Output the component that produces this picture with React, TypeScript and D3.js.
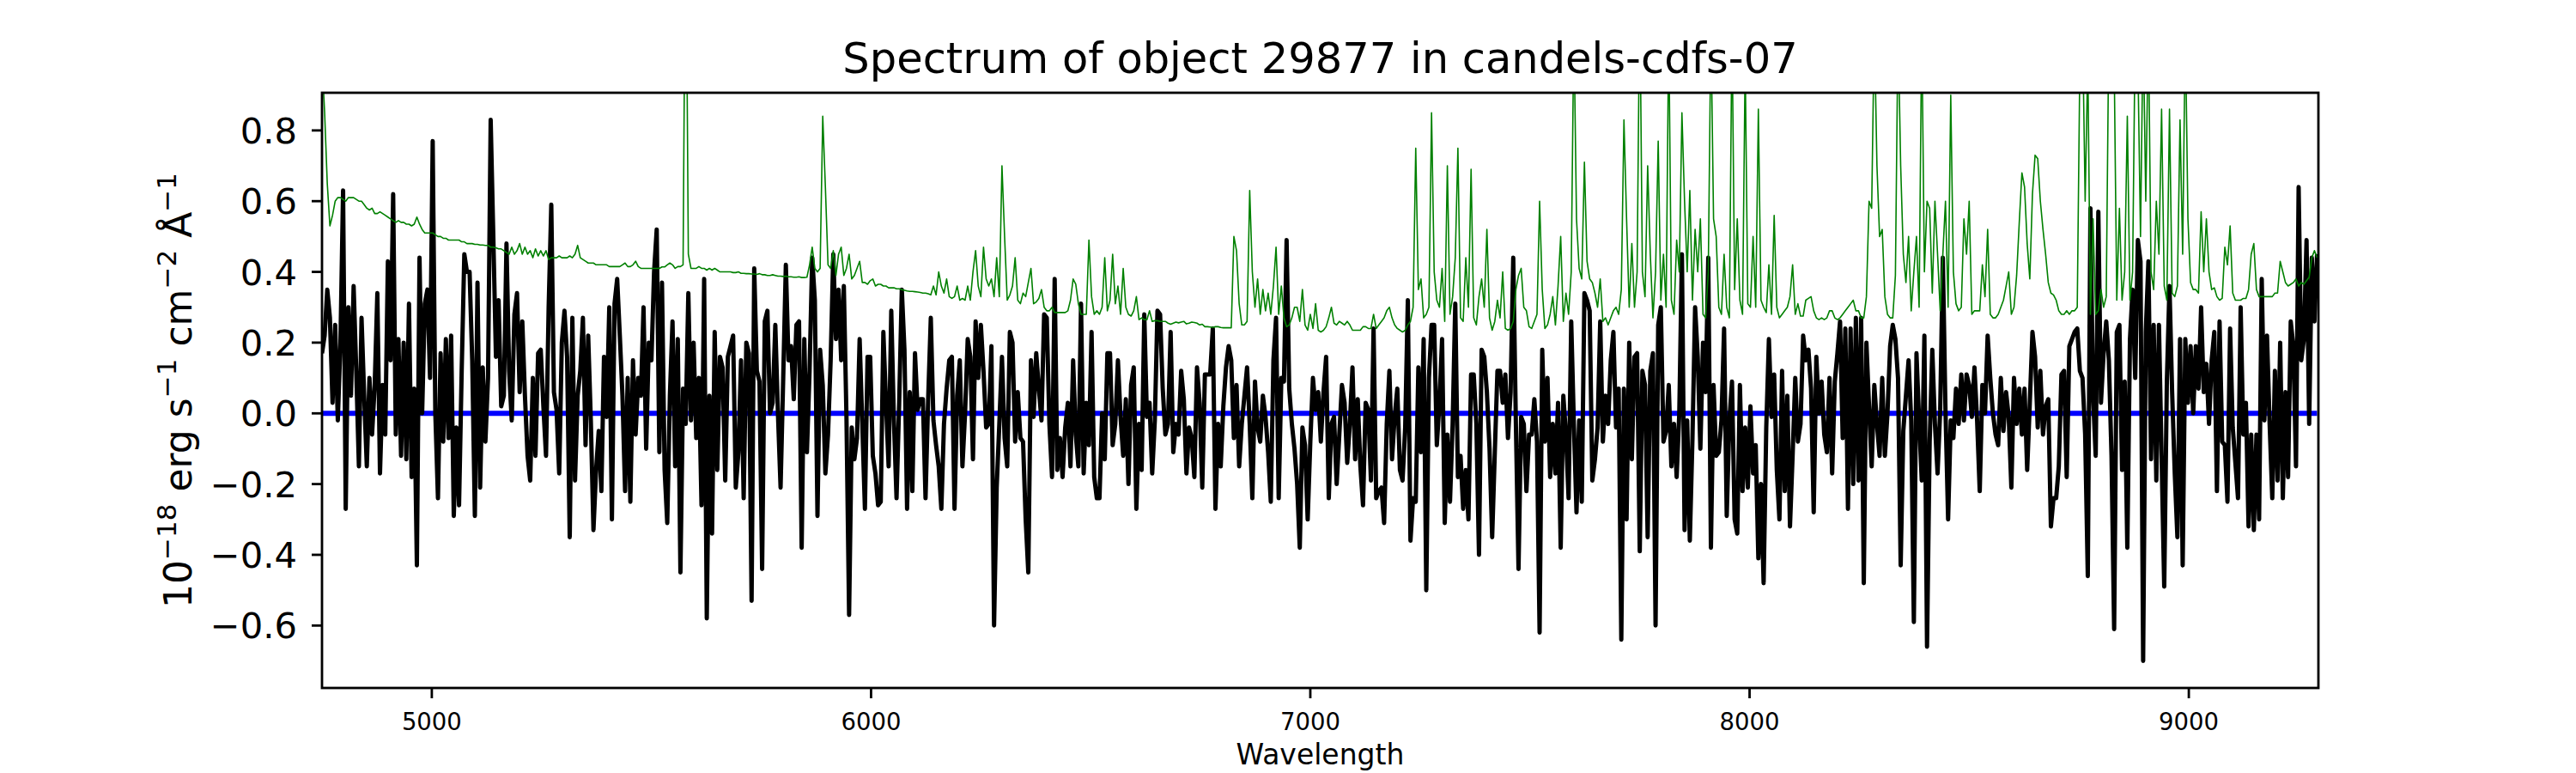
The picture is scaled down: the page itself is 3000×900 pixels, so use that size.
import { useRef, useEffect } from "react";
import * as d3 from "d3";

// spectrum sampling (regular pixel grid, in Angstrom)
const WAVE_START = 4750;
const WAVE_STEP = 6;
const X_LIMITS: [number, number] = [4750, 9295];
const X_TICKS = [5000, 6000, 7000, 8000, 9000];
const Y_TICKS = [-0.6, -0.4, -0.2, 0.0, 0.2, 0.4, 0.6, 0.8];

const TITLE = "Spectrum of object 29877 in candels-cdfs-07";
const X_LABEL = "Wavelength";
// [text, isSuperscript]
const Y_LABEL: [string, boolean][] = [
    ["10", false],
    ["\u221218", true],
    [" erg s", false],
    ["\u22121", true],
    [" cm", false],
    ["\u22122", true],
    [" \u00c5", false],
    ["\u22121", true],
];

// flux, 1e-18 erg/s/cm2/A
const FLUX_4750 = [
    0.17, 0.22, 0.35, 0.27, 0.03, 0.25, -0.02, 0.2, 0.63, -0.27,
    0.3, 0.05, 0.36, 0.12, -0.15, 0.27, 0.05, -0.15, 0.1, -0.06,
    0.08, 0.34, -0.17, 0.08, -0.06, 0.43, 0.15, 0.62, -0.06, 0.21,
    -0.12, 0.2, -0.13, 0.31, -0.18, 0.07, -0.43, 0.44, 0.0, 0.31,
    0.35, 0.1, 0.77, 0.0, -0.24, 0.17, -0.08, 0.21, -0.07, 0.22,
    -0.29, -0.04, -0.26, 0.12, 0.45, 0.4, 0.4, 0.15, -0.29, 0.37,
    -0.21, 0.13, -0.08, 0.1, 0.83, 0.5, 0.16, 0.32, 0.02, 0.05,
    0.48, 0.12, -0.02, 0.28, 0.34, 0.06, 0.26, 0.05, -0.12, -0.19,
    0.1, -0.12, 0.17, 0.18, 0.02, -0.12, 0.3, 0.59, 0.06, 0.01,
    -0.17, 0.2, 0.29, 0.16, -0.35, 0.27, -0.19, 0.05, 0.12, 0.27,
    -0.09, 0.22, -0.02, -0.33, -0.16, -0.05, -0.22, 0.16, -0.01, 0.3,
    -0.3, 0.31, 0.38, 0.22, 0.05, -0.22, 0.1, -0.25, 0.15, -0.06,
    0.1, 0.05, 0.3, -0.1, 0.2, 0.15, 0.4, 0.52, -0.11,
];
const FLUX_5524 = [
    0.37, -0.16, -0.31, 0.05, 0.26, -0.15, 0.21, -0.45, 0.07, -0.03,
    0.34, -0.02, 0.2, -0.07, 0.1, -0.26, 0.38, -0.58, 0.05, -0.34,
    0.23, -0.16, 0.16, 0.13, -0.19, 0.16, 0.19, 0.22, -0.21, -0.11,
    0.15, -0.24, 0.2, 0.17, -0.53, 0.41, 0.12, 0.09, -0.44, 0.26,
    0.29, 0.0, 0.03, 0.25, 0.0, -0.21, 0.1, 0.42, 0.15, 0.19,
    0.04, 0.25, 0.26, -0.38, 0.21, -0.11, 0.12, 0.44, 0.32, -0.29,
    0.18, 0.08, -0.17, -0.06, 0.15, 0.45, 0.21, 0.35, 0.15, 0.36,
    -0.01, -0.57, -0.04, -0.13, -0.07, 0.21, -0.03, -0.27, 0.16, 0.16,
    -0.12, -0.17, -0.26, -0.25, 0.23, 0.03, -0.15, 0.29, -0.02, -0.24,
    0.03, 0.35, 0.18, -0.27, 0.06, -0.22, 0.17, 0.01, 0.04, 0.04,
    -0.24, 0.04, 0.27, -0.02, -0.09, -0.15, -0.27, -0.03, 0.07, 0.15,
    0.16, -0.27, 0.05, 0.15, -0.15, 0.0, 0.21, 0.16, -0.13, 0.26,
    0.1, 0.25, 0.12, -0.04, -0.03, 0.19, -0.6,
];
const FLUX_6286 = [
    -0.21, -0.03, 0.16, -0.07, -0.15, 0.23, 0.2, -0.08, 0.06, -0.07,
    -0.08, -0.3, -0.45, 0.15, -0.01, 0.17, 0.07, -0.02, 0.28, 0.27,
    -0.03, -0.18, 0.38, -0.16, -0.07, -0.18, -0.04, 0.03, -0.15,
    0.15, -0.06, -0.15, 0.31, -0.17, 0.03, -0.09, 0.23, -0.18, -0.24,
    -0.24, 0.0, -0.13, 0.17, 0.17, -0.09, -0.03, 0.15, -0.01,
    -0.12, 0.04, -0.2, 0.08, 0.13, -0.27, -0.03, -0.16, 0.28,
    -0.01, 0.03, -0.17, -0.02, 0.29, 0.28, 0.07, -0.06, -0.03,
    0.23, -0.11, -0.03, -0.06, 0.12, 0.04, -0.17, -0.04,
    -0.07, -0.18, 0.13, 0.03, -0.21, 0.11, 0.11, 0.11, 0.24,
    -0.27, -0.03, -0.15, 0.02, 0.13, 0.19, 0.15, -0.07, 0.08,
    -0.15, -0.03, 0.05, 0.13, -0.03, -0.24, 0.09, -0.04, -0.08,
    0.05, -0.01, -0.11, -0.25, 0.15, 0.27, -0.24, 0.1, 0.09, 0.49,
    0.07, -0.03, -0.1, -0.2, -0.38, -0.04, -0.09, -0.3, -0.08, 0.1,
    0.01, 0.06, -0.08, 0.06, 0.16, -0.24,
];
const FLUX_7048 = [
    -0.03, -0.01, -0.2, -0.06, 0.08, 0.03, -0.14, -0.03, 0.13, -0.13,
    0.04, -0.15, -0.26, 0.03, 0.01, -0.19, 0.24, -0.24, -0.22, -0.21,
    -0.31, -0.03, 0.12, -0.13, -0.01, 0.07, -0.16, -0.19, -0.04, 0.32,
    -0.36, -0.24, -0.25, 0.13, -0.11, 0.21, -0.5, 0.1, 0.25, 0.25,
    -0.09, 0.03, 0.21, -0.31, -0.06, -0.25, -0.03, 0.31, -0.18, -0.12,
    -0.27, -0.16, -0.3, 0.11, 0.11, -0.03, -0.4, 0.18, 0.16, 0.06,
    -0.1, -0.35, -0.11, 0.12, 0.12, 0.03, 0.11, -0.07, 0.06, 0.44,
    -0.03, -0.44, -0.01, -0.03, -0.22, -0.06, -0.06, 0.04, -0.08, -0.62,
    0.18, -0.08, 0.1, -0.18, -0.03, -0.17, 0.03, -0.38, 0.05, -0.06,
    -0.24, 0.26, -0.03, -0.28, -0.02, -0.25, 0.34, 0.32, 0.29, -0.19,
    -0.13, -0.04, 0.26, -0.08, 0.05, -0.03, 0.15, 0.23, -0.04, 0.07,
    -0.64, 0.07, -0.3, 0.2, -0.13, 0.16, 0.17, -0.39, 0.12, 0.08,
    -0.35, 0.12, 0.17, -0.6, 0.25, 0.3, -0.08,
];
const FLUX_7810 = [
    -0.05, 0.08, -0.15, -0.03, -0.18, 0.0, 0.45, -0.33, -0.02, -0.36,
    -0.07, 0.3, 0.16, -0.1, 0.2, 0.06, 0.44, -0.38, 0.08, -0.12,
    -0.11, -0.02, 0.24, -0.29, -0.02, 0.09, -0.3, -0.34, 0.08, -0.22,
    -0.04, -0.21, 0.02, -0.17, -0.09, -0.41, -0.2, -0.48, -0.04, 0.21,
    -0.01, 0.11, -0.16, -0.3, 0.12, -0.22, 0.05, -0.32, -0.12, 0.1,
    -0.08, -0.03, 0.22, 0.15, 0.18, 0.07, -0.28, 0.16, 0.0, 0.09,
    -0.06, -0.11, 0.1, -0.17, 0.09, 0.17, 0.26, -0.07, 0.24, -0.27,
    0.24, -0.2, 0.27, -0.19, 0.27, -0.48, 0.2, 0.02, -0.15, 0.08,
    -0.03, -0.12, 0.1, -0.12, 0.0, 0.19, 0.25, 0.21, 0.1, -0.43,
    -0.05, 0.05, 0.15, -0.02, -0.59, 0.17, -0.02, -0.19, 0.22, -0.66,
    -0.08, 0.18, -0.03, -0.17, 0.01, 0.44, 0.01, -0.3, -0.02, -0.07,
    0.07, -0.03, 0.11, -0.02, 0.11, 0.08, -0.01, 0.13, -0.02, -0.22,
    0.08, 0.0, 0.22, 0.1, 0.0, -0.06, -0.09, 0.1,
];
const FLUX_8578 = [
    -0.05, 0.06, -0.01, -0.21, 0.1, -0.03, 0.07, -0.06, 0.07, -0.16,
    0.03, 0.23, 0.16, -0.04, 0.12, -0.06, 0.02, 0.04, -0.32, -0.24,
    -0.24, -0.15, 0.11, 0.12, -0.18, 0.19, 0.21, 0.23, 0.24, 0.12,
    0.1, -0.06, -0.46, 0.58, 0.05, -0.12, 0.57, 0.03, 0.17, 0.26,
    0.15, -0.12, -0.61, 0.23, 0.25, -0.16, 0.09, -0.38, 0.21, 0.35,
    0.1, 0.49, 0.43, -0.7, 0.23, 0.43, -0.13, 0.25, -0.19, 0.25,
    -0.12, -0.49, 0.09, 0.36, 0.06, -0.17, -0.35, 0.21, -0.43, 0.21,
    0.03, 0.19, 0.0, 0.19, 0.07, 0.3, 0.06, 0.14, -0.03, 0.15,
    0.23, -0.22, 0.26, -0.08, -0.09, -0.25, 0.24, -0.04, -0.14, -0.24,
    0.3, -0.06, 0.03, -0.32, -0.06, -0.33, -0.06, -0.3, 0.38, -0.02,
    0.22, -0.03, -0.24, 0.12, -0.19, 0.2, -0.24, 0.06, -0.18, 0.26,
    0.19, -0.15, 0.64, 0.15, 0.21, 0.49, -0.03, 0.44, 0.26, 0.45,
];

// error spectrum (green), same grid
const ERR_4750 = [
    1.0, 0.85, 0.65, 0.53, 0.56, 0.6, 0.61, 0.61, 0.605, 0.6,
    0.61, 0.61, 0.61, 0.605, 0.6, 0.6, 0.59, 0.58, 0.575, 0.58,
    0.565, 0.565, 0.57, 0.565, 0.56, 0.555, 0.55, 0.545, 0.54, 0.545,
    0.54, 0.54, 0.535, 0.535, 0.53, 0.535, 0.555, 0.535, 0.52, 0.51,
    0.51, 0.51, 0.51, 0.505, 0.5, 0.5, 0.495, 0.495, 0.49, 0.49,
    0.49, 0.49, 0.49, 0.485, 0.485, 0.48, 0.48, 0.48, 0.478, 0.478,
    0.476, 0.476, 0.475, 0.475, 0.47, 0.47, 0.468, 0.465, 0.465, 0.46,
    0.455, 0.45, 0.47, 0.45, 0.46, 0.48, 0.45, 0.47, 0.45, 0.46,
    0.44, 0.465, 0.445, 0.46, 0.445, 0.46, 0.435, 0.44, 0.44, 0.44,
    0.445, 0.44, 0.44, 0.44, 0.445, 0.44, 0.45, 0.475, 0.44, 0.435,
    0.43, 0.425, 0.425, 0.425, 0.42, 0.42, 0.42, 0.42, 0.42, 0.415,
    0.415, 0.415, 0.415, 0.415, 0.42, 0.425, 0.415, 0.415, 0.42, 0.43,
    0.415, 0.41, 0.41, 0.41, 0.41, 0.41, 0.41, 0.41, 0.41,
];
const ERR_5524 = [
    0.414, 0.414, 0.42, 0.425, 0.42, 0.41, 0.415, 0.415, 0.42, 1.5,
    0.45, 0.41, 0.41, 0.41, 0.415, 0.41, 0.41, 0.405, 0.41, 0.405,
    0.41, 0.405, 0.4, 0.4, 0.4,
    0.4, 0.4, 0.398, 0.398, 0.4, 0.396, 0.396, 0.395, 0.395, 0.394,
    0.394, 0.393, 0.395, 0.392, 0.392, 0.39, 0.39, 0.392, 0.39, 0.388,
    0.388, 0.387, 0.388, 0.386, 0.386, 0.385, 0.385, 0.386, 0.384, 0.384,
    0.385, 0.42, 0.47, 0.41, 0.4, 0.41, 0.84, 0.64, 0.42, 0.41,
    0.46, 0.39, 0.45, 0.47, 0.39, 0.41, 0.45, 0.38, 0.39, 0.41,
    0.43, 0.37, 0.37, 0.365, 0.375, 0.38, 0.36, 0.365, 0.365, 0.36,
    0.36, 0.355, 0.355, 0.355, 0.352, 0.352, 0.35, 0.348, 0.346, 0.345,
    0.345, 0.344, 0.343, 0.342, 0.34, 0.34, 0.338, 0.335, 0.36, 0.335,
    0.4, 0.36, 0.34, 0.38, 0.33, 0.325, 0.33, 0.36, 0.32, 0.325,
    0.32, 0.36, 0.32, 0.4, 0.46, 0.36, 0.33, 0.47, 0.38, 0.36, 0.38, 0.33,
];
const ERR_6286 = [
    0.44, 0.33, 0.7, 0.5, 0.32, 0.335, 0.36, 0.44, 0.32, 0.31,
    0.34, 0.33, 0.37, 0.41, 0.31, 0.315, 0.325, 0.35, 0.3, 0.29,
    0.29, 0.3, 0.285, 0.285, 0.285, 0.285, 0.285, 0.29, 0.32, 0.38,
    0.365, 0.31, 0.28, 0.28, 0.28, 0.49, 0.33, 0.28, 0.29, 0.28,
    0.3, 0.44, 0.29, 0.32, 0.45, 0.31, 0.36, 0.28, 0.41, 0.3,
    0.28, 0.275, 0.29, 0.33, 0.265, 0.27, 0.265, 0.265, 0.29, 0.26,
    0.262, 0.262, 0.26, 0.26, 0.26, 0.255, 0.252, 0.255, 0.258, 0.256,
    0.258, 0.26, 0.253, 0.255, 0.258, 0.257, 0.255, 0.25, 0.252, 0.245,
    0.245, 0.244, 0.243, 0.245, 0.245, 0.243, 0.242, 0.242, 0.242, 0.242,
    0.5, 0.46, 0.31, 0.25, 0.25, 0.26, 0.63, 0.4, 0.3, 0.38,
    0.28, 0.35, 0.29, 0.34, 0.28, 0.36, 0.47, 0.28, 0.36, 0.27,
    0.245, 0.25, 0.27, 0.3, 0.3, 0.26, 0.35, 0.25, 0.235, 0.28,
    0.24, 0.31, 0.235, 0.23, 0.235, 0.245, 0.27,
];
const ERR_7048 = [
    0.3, 0.255, 0.25, 0.26, 0.255, 0.25, 0.26, 0.25, 0.235, 0.235,
    0.235, 0.235, 0.245, 0.245, 0.24, 0.24, 0.28, 0.24, 0.25, 0.26,
    0.27, 0.29, 0.3, 0.27, 0.25, 0.24, 0.235, 0.23, 0.235, 0.25,
    0.26, 0.3, 0.75, 0.35, 0.38, 0.27, 0.28, 0.3, 0.85, 0.4,
    0.32, 0.3, 0.41, 0.26, 0.7, 0.28, 0.33, 0.44, 0.75, 0.27,
    0.26, 0.44, 0.3, 0.69, 0.27, 0.25, 0.33, 0.38, 0.3, 0.52,
    0.27, 0.235, 0.26, 0.32, 0.27, 0.4, 0.24, 0.235, 0.24, 0.26,
    0.35, 0.39, 0.41, 0.3, 0.29, 0.245, 0.24, 0.26, 0.28, 0.6,
    0.35, 0.24, 0.25, 0.28, 0.33, 0.25, 0.36, 0.5, 0.26, 0.34,
    0.28, 0.4, 1.1, 0.55, 0.41, 0.38, 0.71, 0.43, 0.38, 0.37,
    0.34, 0.3, 0.38, 0.26, 0.27, 0.25, 0.27, 0.29, 0.3, 0.28,
    0.35, 0.83, 0.55, 0.3, 0.48, 0.3, 0.4, 1.2, 0.4, 0.33,
    0.7, 0.45, 0.27, 0.4, 0.77, 0.32, 0.45,
];
const ERR_7810 = [
    0.3, 1.1, 0.32, 0.28, 0.49, 0.4, 0.85, 0.6, 0.4, 0.63,
    0.32, 0.52, 0.4, 0.55, 0.28, 0.27, 0.4, 1.1, 0.55, 0.5,
    0.3, 0.28, 0.45, 0.3, 0.27, 1.1, 0.35, 0.55, 0.32, 0.28,
    1.0, 0.31, 0.3, 0.5, 0.3, 0.86, 0.32, 0.3, 0.285, 0.42,
    0.28, 0.56, 0.3, 0.27, 0.28, 0.29, 0.3, 0.33, 0.42, 0.28,
    0.31, 0.275, 0.275, 0.32, 0.325, 0.33, 0.29, 0.27, 0.265, 0.27,
    0.265, 0.27, 0.29, 0.29, 0.27, 0.265, 0.27, 0.28, 0.29, 0.3,
    0.31, 0.32, 0.29, 0.29, 0.27, 0.27, 0.33, 0.6, 0.58, 1.1,
    0.7, 0.5, 0.52, 0.33, 0.28, 0.27, 0.27, 0.39, 1.1, 0.7,
    0.45, 0.37, 0.5, 0.29, 0.4, 0.5, 0.3, 1.1, 0.4, 0.6,
    0.58, 0.34, 0.6, 0.45, 0.29, 0.45, 0.6, 0.3, 0.9, 0.4,
    0.31, 0.29, 0.3, 0.55, 0.45, 0.6, 0.28, 0.29, 0.29, 0.29,
    0.42, 0.33, 0.52, 0.28, 0.27, 0.27, 0.28, 0.3,
];
const ERR_8578 = [
    0.32, 0.36, 0.4, 0.28, 0.3, 0.39, 0.54, 0.68, 0.64, 0.48,
    0.38, 0.62, 0.73, 0.72, 0.6, 0.52, 0.45, 0.37, 0.34, 0.335,
    0.32, 0.29, 0.28, 0.28, 0.29, 0.28, 0.29, 0.29, 0.3, 1.0,
    1.1, 0.6, 1.0, 0.28, 0.55, 0.28, 0.29, 0.35, 0.3, 0.33,
    1.1, 1.0, 1.0, 0.32, 0.58, 0.32, 0.4, 0.84, 0.32, 0.4,
    1.1, 1.0, 0.5, 1.1, 0.6, 1.1, 0.4, 0.35, 0.6, 0.45,
    0.86, 0.36, 0.32, 0.86, 0.34, 0.33, 0.36, 0.83, 0.45, 1.1,
    0.55, 0.37, 0.35, 0.35, 0.34, 0.57, 0.4, 0.55, 0.4, 0.35,
    0.355, 0.33, 0.32, 0.325, 0.47, 0.42, 0.53, 0.34, 0.32, 0.32,
    0.32, 0.325, 0.325, 0.35, 0.45, 0.48, 0.35, 0.33, 0.33, 0.33,
    0.33, 0.33, 0.33, 0.34, 0.34, 0.43, 0.4, 0.37, 0.36, 0.365,
    0.37, 0.38, 0.36, 0.37, 0.365, 0.375, 0.385, 0.44, 0.46, 0.44,
];

// flat model drawn in blue
const MODEL_WAVE = [4750, 9292];
const MODEL_LEVEL = [0, 0];

const FLUX = [...FLUX_4750, ...FLUX_5524, ...FLUX_6286, ...FLUX_7048, ...FLUX_7810, ...FLUX_8578];
const ERR = [...ERR_4750, ...ERR_5524, ...ERR_6286, ...ERR_7048, ...ERR_7810, ...ERR_8578];

const FONT = "'DejaVu Sans', sans-serif";

export default function App() {
    const svgRef = useRef<SVGSVGElement>(null);

    useEffect(() => {
        document.body.style.margin = "0";
        if (!svgRef.current) return;
        const svg = d3.select(svgRef.current);
        svg.selectAll("*").remove();

        const width = 3000;
        const height = 900;
        const margin = { top: 108, right: 300, bottom: 99, left: 375 };
        const x0 = margin.left;
        const x1 = width - margin.right;
        const y0 = margin.top;
        const y1 = height - margin.bottom;

        const wave = FLUX.map((_, i) => WAVE_START + i * WAVE_STEP);

        // matplotlib style 5% margins around the flux range
        const [fMin, fMax] = d3.extent(FLUX) as [number, number];
        const pad = (fMax - fMin) * 0.05;

        const x = d3.scaleLinear().domain(X_LIMITS).range([x0, x1]);
        const y = d3.scaleLinear().domain([fMin - pad, fMax + pad]).range([y1, y0]);

        svg.append("rect").attr("width", width).attr("height", height).attr("fill", "#fff");

        svg.append("defs")
            .append("clipPath")
            .attr("id", "plot-area")
            .append("rect")
            .attr("x", x0)
            .attr("y", y0)
            .attr("width", x1 - x0)
            .attr("height", y1 - y0);

        const plot = svg.append("g").attr("clip-path", "url(#plot-area)");

        const line = d3
            .line<number>()
            .x((_, i) => x(wave[i]))
            .y((d) => y(d));

        plot.append("path")
            .attr("d", d3.line<number>().x((_, i) => x(MODEL_WAVE[i])).y((d) => y(d))(MODEL_LEVEL))
            .attr("fill", "none")
            .attr("stroke", "#0000ff")
            .attr("stroke-width", 6);

        plot.append("path")
            .attr("d", line(FLUX))
            .attr("fill", "none")
            .attr("stroke", "#000")
            .attr("stroke-width", 5)
            .attr("stroke-linejoin", "round");

        plot.append("path")
            .attr("d", line(ERR))
            .attr("fill", "none")
            .attr("stroke", "#008000")
            .attr("stroke-width", 1.6)
            .attr("stroke-linejoin", "round");

        // spines
        svg.append("rect")
            .attr("x", x0)
            .attr("y", y0)
            .attr("width", x1 - x0)
            .attr("height", y1 - y0)
            .attr("fill", "none")
            .attr("stroke", "#000")
            .attr("stroke-width", 2.8);

        // x ticks
        const xt = svg.append("g").selectAll("g").data(X_TICKS).enter().append("g");
        xt.append("line")
            .attr("x1", (d) => x(d))
            .attr("x2", (d) => x(d))
            .attr("y1", y1)
            .attr("y2", y1 + 12)
            .attr("stroke", "#000")
            .attr("stroke-width", 2.8);
        xt.append("text")
            .attr("x", (d) => x(d))
            .attr("y", 850)
            .attr("text-anchor", "middle")
            .attr("font-family", FONT)
            .attr("font-size", 27.5)
            .text((d) => String(d));

        // y ticks
        const yfmt = d3.format(".1f");
        const yt = svg.append("g").selectAll("g").data(Y_TICKS).enter().append("g");
        yt.append("line")
            .attr("x1", x0 - 12)
            .attr("x2", x0)
            .attr("y1", (d) => y(d))
            .attr("y2", (d) => y(d))
            .attr("stroke", "#000")
            .attr("stroke-width", 2.8);
        yt.append("text")
            .attr("x", x0 - 29)
            .attr("y", (d) => y(d) + 15)
            .attr("text-anchor", "end")
            .attr("font-family", FONT)
            .attr("font-size", 41.7)
            .text((d) => yfmt(d));

        svg.append("text")
            .attr("x", (x0 + x1) / 2)
            .attr("y", 85)
            .attr("text-anchor", "middle")
            .attr("font-family", FONT)
            .attr("font-size", 49.5)
            .text(TITLE);

        svg.append("text")
            .attr("x", (x0 + x1) / 2)
            .attr("y", 890)
            .attr("text-anchor", "middle")
            .attr("font-family", FONT)
            .attr("font-size", 33)
            .text(X_LABEL);

        const ylab = svg.append("text")
            .attr("transform", `translate(223, ${(y0 + y1) / 2}) rotate(-90)`)
            .attr("text-anchor", "middle")
            .attr("font-family", FONT)
            .attr("font-size", 44)
            .attr("xml:space", "preserve");
        let prevSup = false;
        Y_LABEL.forEach(([txt, sup]) => {
            const dy = sup && !prevSup ? -18 : !sup && prevSup ? 18 : 0;
            ylab.append("tspan")
                .attr("dy", dy)
                .attr("font-size", sup ? 31 : 44)
                .text(txt);
            prevSup = sup;
        });
    }, []);

    return <svg ref={svgRef} width={3000} height={900} style={{ display: "block" }} />;
}
